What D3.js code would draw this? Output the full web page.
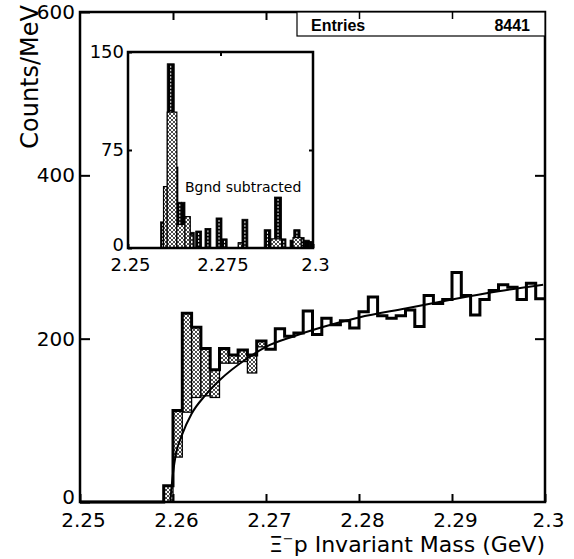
<!DOCTYPE html>
<html><head><meta charset="utf-8">
<script src="https://cdn.jsdelivr.net/npm/d3@7"></script>
<style>body{margin:0;background:#fff} svg{display:block}</style>
</head><body><svg id="c" width="574" height="559"></svg>
<script>
// ---------- DATA ----------
const binStart = 2.250, binWidth = 0.001;
// main histogram: counts per 1 MeV bin, 2.250 .. 2.300
const counts = [0,0,0,0,0,0,0,0,0,
  20,112,231,214,188,162,188,180,186,180,197,187,212,203,207,234,205,225,
  217,222,213,233,251,228,225,228,235,215,253,243,248,281,253,229,248,259,266,263,248,268,249];
// hatched (signal) region: lower boundary per bin, upper boundary = counts
const hatchFirstBin = 9;
const hatchLow = [0,55,110,128,130,128,170,170,172,158,190];
// background fit curve
const fitMass  = [2.2597,2.2600,2.2603,2.2610,2.2620,2.2635,2.2650,2.2680,2.2700,2.2730,2.2760,2.2800,2.2850,2.2900,2.2950,2.2998];
const fitValue = [0,35,58,83,108,131,149,176,190,203,214,226,237,248,258,266];
// inset: background subtracted (solid bars)
const insetLo  = [2.2588,2.2600,2.2606,2.2625,2.2635,2.2645,2.2654,2.2668,2.2683,2.2708,2.2738,2.2754,2.2798,2.2808,2.2868,2.2886,2.2896,2.2915,2.2938,2.2948,2.2965,2.2976,2.2990];
const insetHi  = [2.2600,2.2606,2.2625,2.2635,2.2645,2.2654,2.2668,2.2679,2.2699,2.2724,2.2754,2.2768,2.2808,2.2824,2.2886,2.2896,2.2915,2.2927,2.2948,2.2965,2.2976,2.2990,2.3000];
const insetVal = [20,47,141,62,35,35,24,12,13,15,23,7,4,22,14,6,39,7,6,14,8,6,5];
// inset: hatched overlay
const insetHLo  = [2.2596,2.2606,2.2632,2.2654,2.2668,2.2798,2.2886,2.2946];
const insetHHi  = [2.2606,2.2632,2.2654,2.2668,2.2676,2.2808,2.2915,2.2968];
const insetHVal = [47,104,18,24,10,4,7,8];
// ticks
const xTicks = [2.25,2.26,2.27,2.28,2.29,2.30];
const xTickLabels = ["2.25","2.26","2.27","2.28","2.29","2.3"];
const yTicks = [0,200,400,600];
const yTickLabels = ["0","200","400","600"];
const ixTicks = [2.25,2.275,2.30];
const ixTickLabels = ["2.25","2.275","2.3"];
const iyTicks = [0,75,150];
const iyTickLabels = ["0","75","150"];
const entriesLabel = "Entries", entriesValue = "8441";

// ---------- DRAW ----------
const svg = d3.select("#c");
const FONT = "DejaVu Sans, sans-serif";
const defs = svg.append("defs");
const pat = defs.append("pattern").attr("id","hatch").attr("patternUnits","userSpaceOnUse")
  .attr("width",4).attr("height",4);
pat.append("rect").attr("width",4).attr("height",4).attr("fill","#fff");
pat.append("path").attr("d","M0,0L4,4M4,0L0,4M-1,3L1,5M3,-1L5,1").attr("stroke","#000").attr("stroke-width",0.7);

const x = d3.scaleLinear().domain([2.25,2.30]).range([80,545]);
const y = d3.scaleLinear().domain([0,600]).range([502,12]);

// hatched region
const hg = svg.append("g");
hatchLow.forEach((lo,i)=>{
  const k = hatchFirstBin+i, m0 = binStart+k*binWidth;
  hg.append("rect").attr("x",x(m0)).attr("width",x(m0+binWidth)-x(m0))
    .attr("y",y(counts[k])).attr("height",y(lo)-y(counts[k]))
    .attr("fill","url(#hatch)").attr("stroke","#000").attr("stroke-width",1.3);
});

// histogram outline
const pts = [[x(binStart),y(0)]];
counts.forEach((v,k)=>{const m0=binStart+k*binWidth; pts.push([x(m0),y(v)],[x(m0+binWidth),y(v)]);});
svg.append("path").attr("d",d3.line()(pts)).attr("fill","none").attr("stroke","#000")
  .attr("stroke-width",3).attr("stroke-linejoin","miter");

// fit curve
svg.append("path").datum(fitMass.map((m,i)=>[m,fitValue[i]]))
  .attr("d",d3.line().x(d=>x(d[0])).y(d=>y(d[1])).curve(d3.curveMonotoneX))
  .attr("fill","none").attr("stroke","#000").attr("stroke-width",2);

// axes
function styleAxis(g,fs){
  g.select(".domain").remove();
  g.attr("font-family",FONT).attr("font-size",fs);
  g.selectAll(".tick line").attr("stroke-width",2);
  g.selectAll("text").attr("fill","#000");
}
svg.append("g").attr("transform","translate(80,0)")
  .call(d3.axisLeft(y).tickValues(yTicks).tickFormat((d,i)=>yTickLabels[i]).tickSizeInner(-10).tickSizeOuter(0).tickPadding(5))
  .call(g=>styleAxis(g,20))
  .call(g=>g.selectAll(".tick").filter(d=>d===0).select("text").attr("dy","0.05em"));
svg.append("g").attr("transform","translate(545,0)")
  .call(d3.axisRight(y).tickValues(yTicks.slice(1,3)).tickFormat("").tickSizeInner(-10).tickSizeOuter(0))
  .call(g=>styleAxis(g,20));
svg.append("g").attr("transform","translate(0,502)")
  .call(d3.axisBottom(x).tickValues(xTicks).tickFormat((d,i)=>xTickLabels[i]).tickSizeInner(-8).tickSizeOuter(0).tickPadding(11))
  .call(g=>styleAxis(g,20))
  .call(g=>g.selectAll("text").attr("dx",3));
svg.append("g").attr("transform","translate(0,12)")
  .call(d3.axisTop(x).tickValues(xTicks.slice(1,3)).tickFormat("").tickSizeInner(-8).tickSizeOuter(0))
  .call(g=>styleAxis(g,20));
svg.append("rect").attr("x",80).attr("y",12).attr("width",465).attr("height",490)
  .attr("fill","none").attr("stroke","#000").attr("stroke-width",2.5);

// axis titles
svg.append("text").attr("transform","translate(38,5) rotate(-90)").attr("text-anchor","end")
  .attr("font-family",FONT).attr("font-size",24).text("Counts/MeV");
const xt = svg.append("text").attr("x",545).attr("y",552).attr("text-anchor","end")
  .attr("font-family",FONT).attr("font-size",22);
xt.append("tspan").text("Ξ");
xt.append("tspan").attr("font-size",13).attr("dy",-9).text("−");
xt.append("tspan").attr("dy",9).text("p Invariant Mass (GeV)");

// Entries box
svg.append("rect").attr("x",297).attr("y",12).attr("width",248).attr("height",24)
  .attr("fill","#fff").attr("stroke","#000").attr("stroke-width",1.2);
svg.append("text").attr("x",311).attr("y",31).attr("font-family","Liberation Sans, Arial, sans-serif")
  .attr("font-weight","bold").attr("font-size",16).text(entriesLabel);
svg.append("text").attr("x",530).attr("y",31).attr("text-anchor","end").attr("font-family","Liberation Sans, Arial, sans-serif")
  .attr("font-weight","bold").attr("font-size",16).text(entriesValue);
// top ticks inside the box
svg.append("g").attr("transform","translate(0,12)")
  .call(d3.axisTop(x).tickValues(xTicks.slice(3,5)).tickFormat("").tickSizeInner(-7).tickSizeOuter(0))
  .call(g=>styleAxis(g,20)).call(g=>g.selectAll(".tick line").attr("stroke-width",1.5));

// ---------- INSET ----------
const xi = d3.scaleLinear().domain([2.25,2.30]).range([128,313]);
const yi = d3.scaleLinear().domain([0,150]).range([248,52]);
svg.append("rect").attr("x",128).attr("y",52).attr("width",185).attr("height",196)
  .attr("fill","#fff").attr("stroke","none");
const ig = svg.append("g");
insetVal.forEach((v,i)=>{
  const x0 = xi(insetLo[i]), x1 = xi(insetHi[i]);
  ig.append("rect").attr("x",x0).attr("width",x1-x0).attr("y",yi(v)).attr("height",yi(0)-yi(v))
    .attr("fill","#000").attr("stroke","#000").attr("stroke-width",0.8);
  if (x1-x0 > 3.5 && yi(0)-yi(v) > 8) {
    ig.append("line").attr("x1",(x0+x1)/2).attr("x2",(x0+x1)/2).attr("y1",yi(v)+2).attr("y2",yi(0)-1)
      .attr("stroke","#fff").attr("stroke-width",1).attr("stroke-dasharray","2,1.5");
  }
});
insetHVal.forEach((v,i)=>{
  const x0 = xi(insetHLo[i]), x1 = xi(insetHHi[i]);
  ig.append("rect").attr("x",x0).attr("width",x1-x0).attr("y",yi(v)).attr("height",yi(0)-yi(v))
    .attr("fill","url(#hatch)").attr("stroke","#000").attr("stroke-width",1.2);
});
svg.append("g").attr("transform","translate(128,0)")
  .call(d3.axisLeft(yi).tickValues(iyTicks).tickFormat((d,i)=>iyTickLabels[i]).tickSizeInner(-4).tickSizeOuter(0).tickPadding(4))
  .call(g=>styleAxis(g,18))
  .call(g=>g.selectAll(".tick").filter(d=>d===0).select("text").attr("dy","0.12em"));
svg.append("g").attr("transform","translate(313,0)")
  .call(d3.axisRight(yi).tickValues([75]).tickFormat("").tickSizeInner(-4).tickSizeOuter(0))
  .call(g=>styleAxis(g,18));
svg.append("g").attr("transform","translate(0,248)")
  .call(d3.axisBottom(xi).tickValues(ixTicks).tickFormat((d,i)=>ixTickLabels[i]).tickSizeInner(-4).tickSizeOuter(0).tickPadding(10))
  .call(g=>styleAxis(g,18))
  .call(g=>g.selectAll("text").attr("dx",2));
svg.append("g").attr("transform","translate(0,52)")
  .call(d3.axisTop(xi).tickValues([2.275]).tickFormat("").tickSizeInner(-4).tickSizeOuter(0))
  .call(g=>styleAxis(g,18));
svg.append("rect").attr("x",128).attr("y",52).attr("width",185).attr("height",196)
  .attr("fill","none").attr("stroke","#000").attr("stroke-width",2.5);
svg.append("text").attr("x",185).attr("y",192).attr("font-family",FONT).attr("font-size",14)
  .text("Bgnd subtracted");
</script></body></html>
